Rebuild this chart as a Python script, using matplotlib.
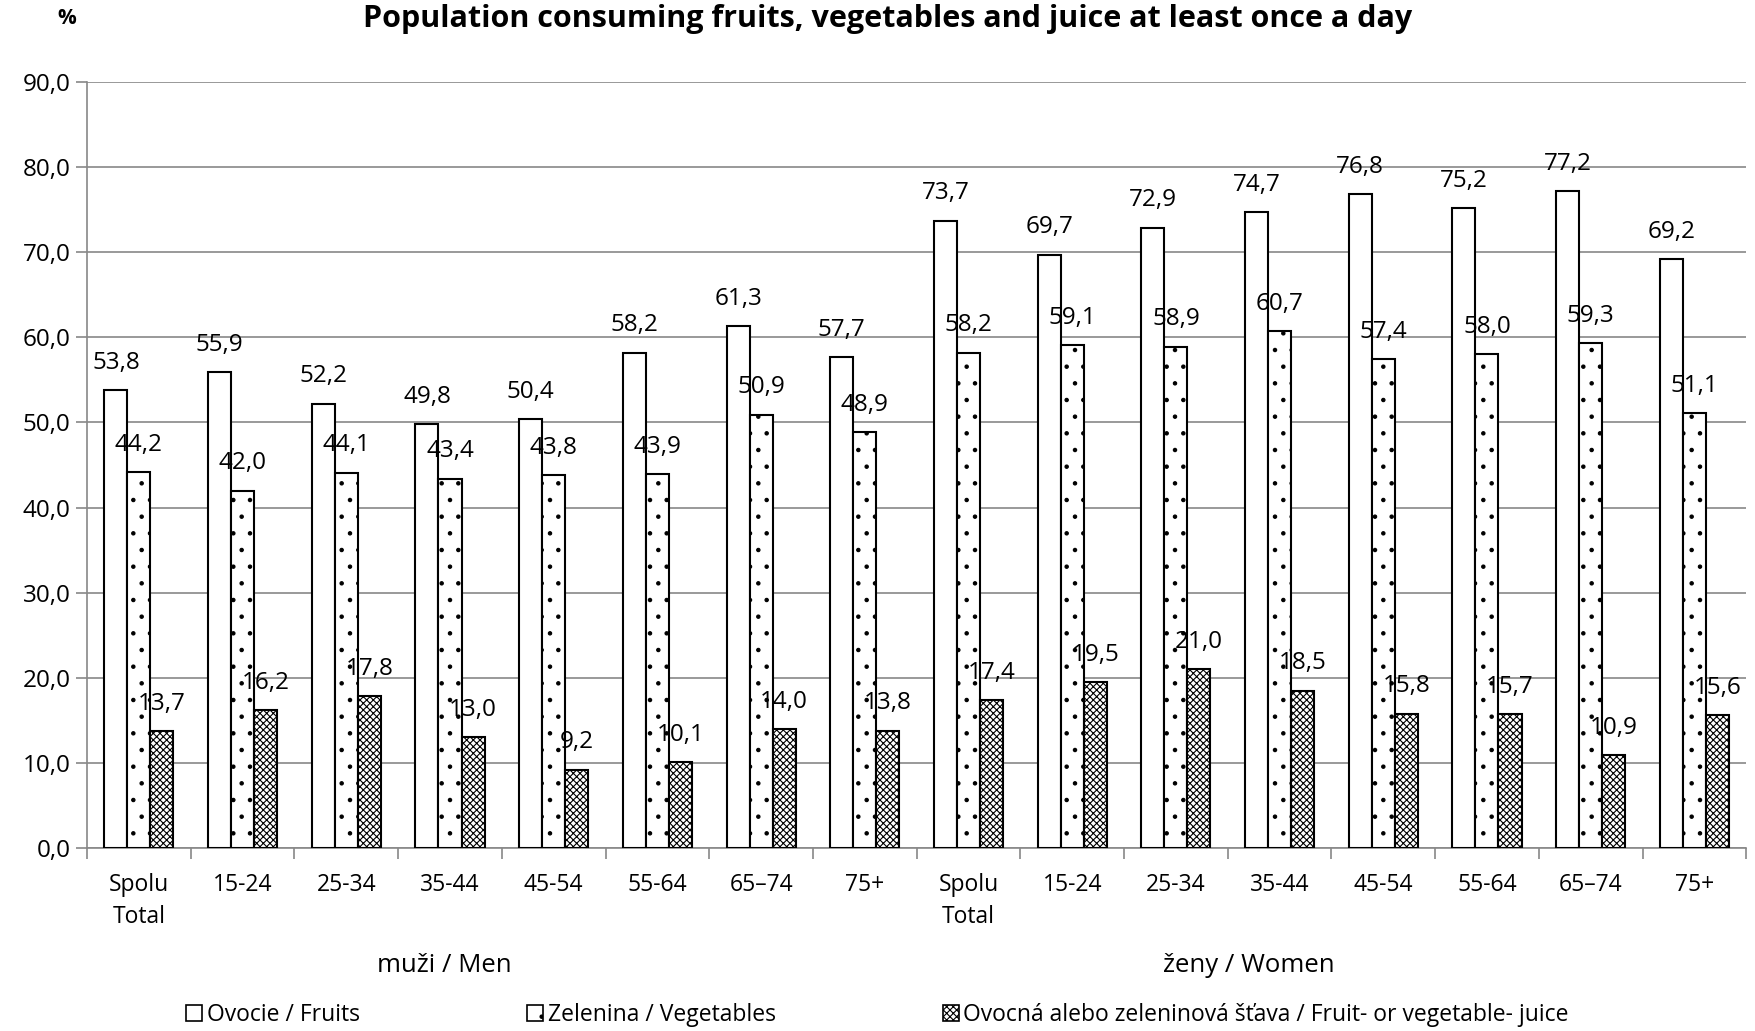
import matplotlib
matplotlib.use("Agg")
import matplotlib.pyplot as plt
from matplotlib.patches import Patch
import numpy as np

plt.rcParams['font.family'] = ['Open Sans', 'DejaVu Sans']
plt.rcParams['hatch.linewidth'] = 0.8

categories = ["Spolu\nTotal", "15-24", "25-34", "35-44", "45-54", "55-64", "65\u201374", "75+",
              "Spolu\nTotal", "15-24", "25-34", "35-44", "45-54", "55-64", "65\u201374", "75+"]
groups = ["mu\u017ei / Men", "\u017eeny / Women"]
fruits = [53.8, 55.9, 52.2, 49.8, 50.4, 58.2, 61.3, 57.7,
          73.7, 69.7, 72.9, 74.7, 76.8, 75.2, 77.2, 69.2]
vegetables = [44.2, 42.0, 44.1, 43.4, 43.8, 43.9, 50.9, 48.9,
              58.2, 59.1, 58.9, 60.7, 57.4, 58.0, 59.3, 51.1]
juice = [13.7, 16.2, 17.8, 13.0, 9.2, 10.1, 14.0, 13.8,
         17.4, 19.5, 21.0, 18.5, 15.8, 15.7, 10.9, 15.6]
series_names = ["Ovocie / Fruits", "Zelenina / Vegetables",
                "Ovocn\u00e1 alebo zeleninov\u00e1 \u0161\u0165ava / Fruit- or vegetable- juice"]

fig = plt.figure(figsize=(17.55, 10.31), dpi=100)
ax = fig.add_axes([0.0496, 0.1775, 0.9454, 0.743])

x = np.arange(len(categories))
w = 0.222
hatches = [None, '.', 'xxxxx']
for i, (vals, h) in enumerate(zip([fruits, vegetables, juice], hatches)):
    ax.bar(x + (i - 1) * w, vals, w, facecolor='white', edgecolor='black',
           linewidth=1.5, hatch=h, zorder=3)
    for xi, v in zip(x + (i - 1) * w, vals):
        ax.annotate(f"{v:.1f}".replace('.', ','), (xi, v), xytext=(0, 11),
                    textcoords='offset points', ha='center', va='bottom', fontsize=17.5,
                    zorder=4)

ax.set_ylim(0, 90)
ax.set_xlim(-0.5, len(categories) - 0.5)
ax.set_yticks(np.arange(0, 91, 10))
ax.set_yticklabels([f"{t:.1f}".replace('.', ',') for t in np.arange(0, 91, 10)], fontsize=17.5)
ax.yaxis.grid(True, color='#888888', linewidth=1.2, zorder=0)
ax.tick_params(axis='y', length=8, color='#888888', width=1.2, pad=4)
ax.set_xticks(np.arange(-0.5, len(categories), 1))
ax.set_xticklabels([])
ax.tick_params(axis='x', length=8, color='#888888', width=1.2)
for xi, lab in zip(x, categories):
    ax.text(xi, -2.9, lab, ha='center', va='top', fontsize=16.5, linespacing=1.45)
for gx, g in zip([2.95, 10.7], groups):
    ax.text(gx, -12.3, g, ha='center', va='top', fontsize=18.5)
for s in ['top', 'right']:
    ax.spines[s].set_visible(False)
for s in ['left', 'bottom']:
    ax.spines[s].set_color('#888888')
    ax.spines[s].set_linewidth(1.2)

fig.text(0.038, 0.982, "%", fontsize=15, fontweight='bold', ha='center', va='center')
fig.text(0.506, 0.982, "Population consuming fruits, vegetables and juice at least once a day",
         fontsize=22, fontweight='bold', ha='center', va='center')

handles = [Patch(facecolor='white', edgecolor='black', hatch=h, linewidth=1.2)
           for h in hatches]
fig.legend(handles, series_names, loc='center', bbox_to_anchor=(0.5, 0.0155), ncol=3,
           frameon=False, fontsize=16.5, handlelength=0.7, handleheight=0.7, handletextpad=0.2,
           columnspacing=7.3)

fig.savefig("out.png", dpi=100)
